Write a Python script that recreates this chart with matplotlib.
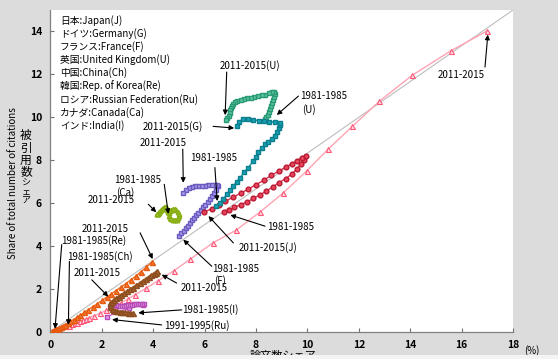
# Importing dependencies
import matplotlib.pyplot as plt
from matplotlib.patches import Rectangle

plt.rcParams['font.family'] = ['Noto Sans CJK JP', 'DejaVu Sans']

# Share of papers (x, %) and share of citations (y, %), 5-year windows
jp_x = [6.75, 6.95, 7.15, 7.40, 7.65, 7.90, 8.15, 8.40, 8.65, 8.90, 9.15, 9.40, 9.60, 9.75, 9.87, 9.95,
        9.80, 9.60, 9.40, 9.15, 8.90, 8.60, 8.30, 8.00, 7.70, 7.40, 7.10, 6.80, 6.55, 6.28, 5.98]
jp_y = [5.57, 5.68, 5.80, 5.93, 6.06, 6.22, 6.39, 6.56, 6.76, 6.96, 7.14, 7.36, 7.60, 7.84, 8.02, 8.18,
        8.12, 7.97, 7.84, 7.68, 7.50, 7.30, 7.07, 6.86, 6.66, 6.46, 6.28, 6.08, 5.92, 5.74, 5.59]

de_x = [6.44, 6.60, 6.73, 6.86, 7.00, 7.12, 7.25, 7.38, 7.55, 7.70, 7.90, 8.00, 8.09, 8.22, 8.35, 8.48,
        8.61, 8.72, 8.80, 8.90, 8.95, 8.93, 8.74, 8.50, 8.30, 8.10, 7.90, 7.70, 7.50, 7.35, 7.27]
de_y = [5.87, 6.02, 6.20, 6.41, 6.60, 6.80, 7.00, 7.19, 7.45, 7.66, 7.97, 8.17, 8.37, 8.56, 8.75, 8.87,
        8.99, 9.15, 9.30, 9.50, 9.65, 9.72, 9.77, 9.80, 9.82, 9.85, 9.88, 9.90, 9.93, 9.80, 9.58]

fr_x = [5.02, 5.10, 5.18, 5.26, 5.34, 5.42, 5.50, 5.58, 5.67, 5.76, 5.85, 5.94, 6.03, 6.12, 6.21, 6.30,
        6.38, 6.46, 6.53, 6.50, 6.40, 6.28, 6.15, 6.02, 5.89, 5.76, 5.63, 5.50, 5.38, 5.26, 5.17]
fr_y = [4.49, 4.60, 4.72, 4.84, 4.96, 5.08, 5.20, 5.32, 5.44, 5.56, 5.68, 5.80, 5.93, 6.06, 6.19, 6.32,
        6.46, 6.62, 6.80, 6.86, 6.85, 6.84, 6.83, 6.82, 6.80, 6.80, 6.79, 6.76, 6.70, 6.60, 6.49]

uk_x = [8.35, 8.40, 8.45, 8.50, 8.55, 8.60, 8.64, 8.68, 8.71, 8.72, 8.70, 8.62, 8.50, 8.36, 8.22, 8.08,
        7.94, 7.80, 7.66, 7.52, 7.40, 7.28, 7.18, 7.10, 7.05, 7.02, 7.00, 6.97, 6.93, 6.88, 6.83]
uk_y = [9.90, 10.00, 10.12, 10.25, 10.38, 10.52, 10.66, 10.80, 10.95, 11.08, 11.18, 11.20, 11.12, 11.06,
        11.02, 10.98, 10.95, 10.92, 10.88, 10.84, 10.80, 10.76, 10.70, 10.62, 10.52, 10.42, 10.32, 10.20,
        10.08, 9.96, 9.88]

cn_x = [0.62, 0.72, 0.84, 0.95, 1.04, 1.14, 1.25, 1.38, 1.52, 1.70, 1.93, 2.18, 2.45, 2.75, 3.02, 3.29,
        3.72, 4.20, 4.80, 5.45, 6.32, 7.22, 8.16, 9.04, 9.97, 10.81, 11.75, 12.80, 14.08, 15.57, 17.00]
cn_y = [0.26, 0.30, 0.35, 0.40, 0.44, 0.49, 0.54, 0.60, 0.67, 0.76, 0.87, 1.01, 1.18, 1.36, 1.54, 1.73,
        2.04, 2.39, 2.85, 3.40, 4.15, 4.74, 5.59, 6.46, 7.50, 8.52, 9.58, 10.75, 11.96, 13.09, 14.03]

kr_x = [0.08, 0.10, 0.12, 0.15, 0.18, 0.22, 0.27, 0.33, 0.40, 0.48, 0.57, 0.67, 0.78, 0.90, 1.03, 1.17,
        1.32, 1.48, 1.65, 1.83, 2.01, 2.19, 2.37, 2.55, 2.74, 2.93, 3.12, 3.32, 3.52, 3.73, 3.94]
kr_y = [0.04, 0.05, 0.06, 0.08, 0.10, 0.12, 0.15, 0.19, 0.23, 0.28, 0.34, 0.41, 0.49, 0.58, 0.68, 0.79,
        0.91, 1.04, 1.18, 1.32, 1.47, 1.62, 1.77, 1.93, 2.09, 2.25, 2.42, 2.60, 2.80, 3.02, 3.25]

ru_x = [2.20, 3.05, 3.62, 3.66, 3.58, 3.50, 3.42, 3.34, 3.26, 3.18, 3.10, 3.02, 2.94, 2.86, 2.78, 2.70,
        2.62, 2.54, 2.46, 2.38, 2.30]
ru_y = [0.72, 1.10, 1.28, 1.32, 1.31, 1.30, 1.30, 1.29, 1.29, 1.28, 1.27, 1.26, 1.25, 1.22, 1.20, 1.20,
        1.22, 1.24, 1.26, 1.25, 1.22]

ca_x = [4.60, 4.64, 4.70, 4.77, 4.85, 4.92, 4.98, 5.01, 5.00, 4.96, 4.90, 4.83, 4.76, 4.70, 4.66, 4.62,
        4.58, 4.55, 4.52, 4.50, 4.47, 4.44, 4.40, 4.36, 4.32, 4.28, 4.24, 4.21, 4.18, 4.16, 4.14]
ca_y = [5.42, 5.32, 5.25, 5.21, 5.20, 5.24, 5.32, 5.42, 5.52, 5.61, 5.68, 5.73, 5.74, 5.70, 5.62, 5.55,
        5.60, 5.68, 5.76, 5.82, 5.84, 5.83, 5.79, 5.74, 5.69, 5.64, 5.60, 5.56, 5.52, 5.50, 5.48]

in_x = [3.20, 3.10, 3.00, 2.90, 2.80, 2.70, 2.60, 2.52, 2.45, 2.38, 2.32, 2.30, 2.33, 2.40, 2.48, 2.56,
        2.65, 2.75, 2.86, 2.98, 3.10, 3.22, 3.35, 3.48, 3.60, 3.72, 3.83, 3.93, 4.02, 4.09, 4.14]
in_y = [0.88, 0.89, 0.90, 0.91, 0.92, 0.94, 0.96, 0.99, 1.03, 1.08, 1.15, 1.24, 1.33, 1.42, 1.50, 1.57,
        1.64, 1.72, 1.80, 1.89, 1.98, 2.07, 2.17, 2.27, 2.37, 2.47, 2.56, 2.64, 2.71, 2.77, 2.82]

# Country key in the top left corner
legend_lines = ["日本:Japan(J)", "ドイツ:Germany(G)", "フランス:France(F)", "英国:United Kingdom(U)",
                "中国:China(Ch)", "韓国:Rep. of Korea(Re)", "ロシア:Russian Federation(Ru)",
                "カナダ:Canada(Ca)", "インド:India(I)"]

# Callouts: (text, text position, arrow tail, arrow head)
callouts = [
    ("2011-2015", (15.98, 11.98), (16.91, 12.34), (17.02, 13.85)),
    ("2011-2015(U)", (7.77, 12.42), (6.86, 12.11), (6.80, 10.10)),
    ("2011-2015(G)", (4.78, 9.58), (6.33, 9.58), (7.15, 9.50)),
    ("2011-2015", (4.38, 8.80), (5.15, 8.52), (5.17, 6.95)),
    ("1981-1985", (6.34, 8.10), (6.40, 7.66), (6.49, 6.10)),
    ("1981-1985", (3.39, 7.08), (4.43, 6.88), (4.59, 5.50)),
    ("(Ca)", (2.90, 6.52), None, None),
    ("2011-2015", (2.38, 6.16), (3.81, 5.95), (4.12, 5.58)),
    ("2011-2015", (2.12, 4.82), (3.49, 4.62), (3.98, 3.40)),
    ("1981-1985(Re)", (1.70, 4.27), (0.44, 4.07), (0.18, 0.15)),
    ("1981-1985(Ch)", (1.93, 3.50), (0.74, 3.29), (0.70, 0.33)),
    ("2011-2015", (1.80, 2.75), (1.61, 2.43), (2.25, 1.65)),
    ("2011-2015", (5.98, 2.05), (4.91, 2.28), (4.33, 2.67)),
    ("1981-1985(I)", (6.22, 1.06), (5.11, 1.03), (3.42, 0.89)),
    ("1991-1995(Ru)", (5.70, 0.29), (4.33, 0.33), (2.40, 0.58)),
    ("1981-1985", (7.20, 2.94), (6.28, 3.06), (5.17, 4.30)),
    ("(F)", (6.60, 2.42), None, None),
    ("2011-2015(J)", (8.45, 3.92), (7.12, 4.15), (6.15, 5.40)),
    ("1981-1985", (9.36, 4.90), (8.35, 4.93), (7.00, 5.45)),
    ("1981-1985", (10.62, 10.99), (9.65, 10.99), (8.81, 10.11)),
    ("(U)", (10.05, 10.36), None, None),
]

fig = plt.figure(figsize=(5.58, 3.59), dpi=100, facecolor='#dcdcdc')
ax = fig.add_axes([50.4 / 558, 27 / 359, 462.6 / 558, 322 / 359])
ax.set_facecolor('white')

# Reference diagonal from corner to corner
ax.plot([0, 18], [0, 15], color='#bdbdbd', lw=0.8, zorder=1)

# Plotting each country
ax.plot(cn_x, cn_y, color='#ffa3b3', lw=1.0, marker='^', ms=3.6, mfc='#ffe0e6', mec='#ff5577', mew=0.8, zorder=3)
ax.plot(kr_x, kr_y, color='#f26a1b', lw=1.0, marker='^', ms=3.6, mfc='#f57a30', mec='#e55a10', zorder=3)
ax.plot(in_x, in_y, color='#a8642e', lw=2.0, marker='^', ms=3.6, mfc='#a8642e', mec='#8c4e20', zorder=4)
ax.plot(ru_x, ru_y, color='#cc5fcc', lw=1.0, marker='s', ms=3.4, mfc='#e29ae2', mec='#b64cb6', zorder=3)
ax.plot(ca_x, ca_y, color='#98bf20', lw=1.5, marker='^', ms=3.2, mfc='#a6c830', mec='#88ad15', zorder=3)
ax.plot(fr_x, fr_y, color='#7d6fd0', lw=1.0, marker='s', ms=3.4, mfc='#a699e6', mec='#6a5bc0', zorder=3)
ax.plot(jp_x, jp_y, color='#e0304a', lw=1.0, marker='o', ms=3.4, mfc='#e8455c', mec='#b81a32', zorder=4)
ax.plot(de_x, de_y, color='#1596a8', lw=1.0, marker='s', ms=3.4, mfc='#1aa2b4', mec='#0b7e8e', zorder=4)
ax.plot(uk_x, uk_y, color='#34ad85', lw=1.0, marker='s', ms=3.4, mfc='#5cc6a0', mec='#2a9a76', zorder=3)

# Axes and ticks
ax.set_xlim(0, 18)
ax.set_ylim(0, 15)
ax.set_xticks(range(0, 19, 2))
ax.set_yticks(range(0, 15, 2))
ax.tick_params(direction='in', length=3, width=0.8, color='#707070', labelsize=7.5, pad=6)
for lab in ax.get_xticklabels() + ax.get_yticklabels():
    lab.set_fontweight('bold')
for side in ['top', 'right']:
    ax.spines[side].set_visible(False)
for side in ['left', 'bottom']:
    ax.spines[side].set_color('#808080')
    ax.spines[side].set_linewidth(0.9)

# Country key
for i, line in enumerate(legend_lines):
    ax.text(0.37, 14.53 - i * 0.616, line, fontsize=7, va='center', ha='left', zorder=5)

# Callout labels and arrows
for text, pos, tail, head in callouts:
    ax.text(pos[0], pos[1], text, fontsize=7, ha='center', va='center', zorder=6)
    if tail is not None:
        ax.annotate('', xy=head, xytext=tail,
                    arrowprops=dict(arrowstyle='-|>', color='black', lw=0.8,
                                    mutation_scale=7, shrinkA=0, shrinkB=0), zorder=6)

ax.text(18.73, -0.84, "(%)", fontsize=7, ha='center', va='center', clip_on=False)

# Axis titles
fig.text(13 / 558, 1 - 183 / 359, "Share of total number of citations", rotation=90,
         fontsize=7, ha='center', va='center')
ja_chars = ["被", "引", "用", "数", "シ", "ェ", "ア"]
ja_ypos = [135, 148, 160, 172, 183, 192, 200]
ja_size = [8.5, 8.5, 8.5, 8.5, 6.5, 6.5, 6.5]
for ch, yp, sz in zip(ja_chars, ja_ypos, ja_size):
    fig.text(26 / 558, 1 - yp / 359, ch, fontsize=sz, ha='center', va='center')
fig.text(283 / 558, 1 - 351 / 359, "論文数シェア", fontsize=8, ha='center', va='top')

# Light band along the bottom edge cuts the x title
fig.patches.append(Rectangle((0, 0), 1, 4 / 359, transform=fig.transFigure,
                             facecolor='#f4f4f4', edgecolor='none', zorder=10))

fig.savefig('out.png', dpi=100, facecolor=fig.get_facecolor())
